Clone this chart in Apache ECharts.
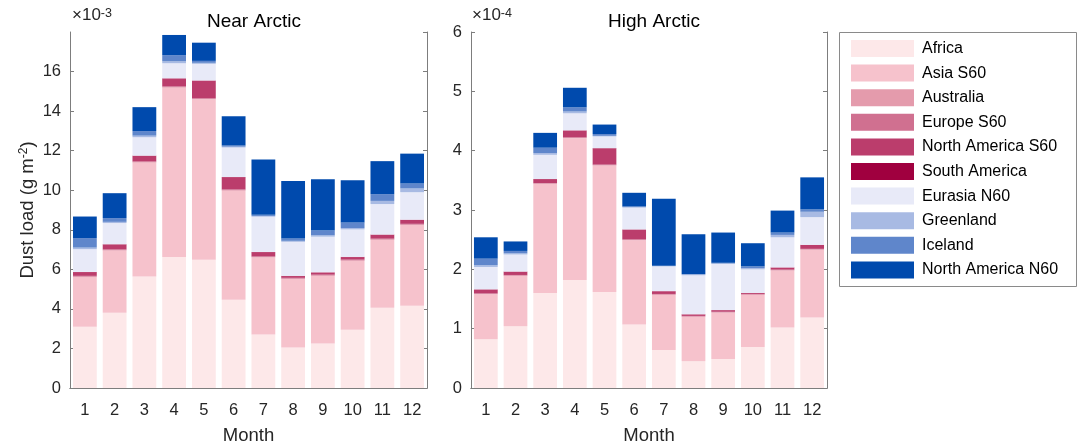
<!DOCTYPE html>
<html>
<head>
<meta charset="utf-8">
<script src="https://cdn.jsdelivr.net/npm/echarts@6/dist/echarts.min.js"></script>
<style>html,body{margin:0;padding:0;background:#fff;}#c{width:1079px;height:444px;}</style>
</head>
<body>
<div id="c"></div>
<script>
// Categories
var months = ['1','2','3','4','5','6','7','8','9','10','11','12'];
var sourceNames = ['Africa','Asia S60','Australia','Europe S60','North America S60','South America','Eurasia N60','Greenland','Iceland','North America N60'];
var sourceColors = ['#fde8e9','#f6c2cc','#e49bac','#d07090','#bb3d6c','#a0003f','#e8eaf8','#a8bae3','#5f86cb','#004aad'];

// Near Arctic dust load (x10^-3 g m^-2)
var nearAfrica   = [3.10,3.80,5.64,6.62,6.48,4.46,2.71,2.05,2.25,2.95,4.06,4.16];
var nearAsia     = [2.51,3.15,5.76,8.57,8.12,5.52,3.89,3.46,3.42,3.48,3.43,4.08];
var nearAustralia= [0.02,0.02,0.02,0.02,0.02,0.02,0.02,0.02,0.02,0.02,0.02,0.02];
var nearEurope   = [0.04,0.04,0.04,0.04,0.04,0.04,0.04,0.04,0.04,0.04,0.04,0.04];
var nearNAS60    = [0.19,0.25,0.28,0.40,0.88,0.62,0.21,0.09,0.11,0.13,0.20,0.20];
var nearSAm      = [0.01,0.01,0.01,0.01,0.01,0.01,0.01,0.01,0.01,0.01,0.01,0.01];
var nearEurasia  = [1.15,1.07,0.93,0.76,0.84,1.49,1.78,1.72,1.80,1.39,1.54,1.39];
var nearGreenland= [0.08,0.06,0.08,0.10,0.05,0.04,0.04,0.05,0.07,0.07,0.16,0.19];
var nearIceland  = [0.48,0.19,0.23,0.31,0.10,0.06,0.06,0.12,0.24,0.28,0.34,0.25];
var nearNAN60    = [1.09,1.26,1.21,1.02,0.92,1.48,2.79,2.90,2.60,2.14,1.67,1.51];

// High Arctic dust load (x10^-4 g m^-2)
var highAfrica   = [0.82,1.04,1.60,1.82,1.62,1.07,0.64,0.45,0.49,0.69,1.02,1.19];
var highAsia     = [0.76,0.85,1.84,2.39,2.13,1.42,0.93,0.75,0.78,0.88,0.96,1.14];
var highAustralia= [0.005,0.005,0.005,0.005,0.005,0.005,0.005,0.005,0.005,0.005,0.005,0.005];
var highEurope   = [0.01,0.01,0.01,0.01,0.01,0.01,0.01,0.01,0.01,0.01,0.01,0.01];
var highNAS60    = [0.065,0.055,0.065,0.115,0.275,0.165,0.045,0.025,0.025,0.015,0.035,0.065];
var highSAm      = [0.003,0.003,0.003,0.003,0.003,0.003,0.003,0.003,0.003,0.003,0.003,0.003];
var highEurasia  = [0.377,0.287,0.407,0.287,0.197,0.367,0.417,0.657,0.777,0.397,0.507,0.467];
var highGreenland= [0.03,0.02,0.03,0.03,0.01,0.01,0.005,0.01,0.01,0.02,0.04,0.09];
var highIceland  = [0.11,0.04,0.09,0.07,0.03,0.01,0.005,0.01,0.01,0.03,0.04,0.04];
var highNAN60    = [0.36,0.16,0.25,0.33,0.16,0.23,1.13,0.67,0.51,0.39,0.37,0.54];

var nearSets = [nearAfrica,nearAsia,nearAustralia,nearEurope,nearNAS60,nearSAm,nearEurasia,nearGreenland,nearIceland,nearNAN60];
var highSets = [highAfrica,highAsia,highAustralia,highEurope,highNAS60,highSAm,highEurasia,highGreenland,highIceland,highNAN60];

var FONT = 'Liberation Sans, Arial, Helvetica, sans-serif';
var TXT = '#262626';
var AX = '#7d7d7d';

function xAxes(gi){
  return [
    {type:'category', gridIndex:gi, data:months, position:'bottom',
     axisLine:{lineStyle:{color:AX}}, axisTick:{inside:true,length:4,alignWithLabel:true,lineStyle:{color:AX}},
     axisLabel:{color:TXT,fontSize:16.5,fontFamily:FONT,margin:14},
     name:'Month', nameLocation:'middle', nameGap:38.5,
     nameTextStyle:{color:TXT,fontSize:18.5,fontFamily:FONT}},
    {type:'category', gridIndex:gi, data:months, position:'top',
     axisLine:{lineStyle:{color:AX}}, axisTick:{inside:true,length:4,alignWithLabel:true,lineStyle:{color:AX}},
     axisLabel:{show:false}}
  ];
}
function yAxes(gi,max,interval,showMax,withName){
  var a = {type:'value', gridIndex:gi, min:0, max:max, interval:interval, position:'left',
     axisLine:{show:true,lineStyle:{color:AX}}, axisTick:{show:true,inside:true,length:4,lineStyle:{color:AX}},
     splitLine:{show:false},
     axisLabel:{color:TXT,fontSize:16.5,fontFamily:FONT,margin:9,showMaxLabel:showMax}};
  if(withName){
    a.name='Dust load (g m{s|-2})';
    a.nameLocation='middle'; a.nameGap=33; a.nameRotate=90;
    a.nameTextStyle={color:TXT,fontSize:18.5,fontFamily:FONT,
      rich:{s:{fontSize:12,fontFamily:FONT,color:TXT,verticalAlign:'top',lineHeight:12}}};
  }
  var b = {type:'value', gridIndex:gi, min:0, max:max, interval:interval, position:'right',
     axisLine:{show:true,lineStyle:{color:AX}}, axisTick:{show:true,inside:true,length:4,lineStyle:{color:AX}},
     splitLine:{show:false}, axisLabel:{show:false}};
  return [a,b];
}

var series = [];
for (var i=0;i<sourceNames.length;i++){
  series.push({name:sourceNames[i], type:'bar', stack:'near', xAxisIndex:0, yAxisIndex:0,
    data:nearSets[i], barWidth:'80%', itemStyle:{color:sourceColors[i]}, emphasis:{disabled:true}});
}
for (var j=0;j<sourceNames.length;j++){
  series.push({name:sourceNames[j], type:'bar', stack:'high', xAxisIndex:2, yAxisIndex:2,
    data:highSets[j], barWidth:'80%', itemStyle:{color:sourceColors[j]}, emphasis:{disabled:true}});
}

var chart = echarts.init(document.getElementById('c'), null, {renderer:'canvas'});
chart.setOption({
  animation:false,
  backgroundColor:'#fff',
  title:[
    {text:'Near Arctic', left:249, top:7, textAlign:'center', textStyle:{color:'#000',fontSize:19,fontWeight:'normal',fontFamily:FONT}},
    {text:'High Arctic', left:649, top:7, textAlign:'center', textStyle:{color:'#000',fontSize:19,fontWeight:'normal',fontFamily:FONT}}
  ],
  grid:[
    {left:70, top:32, width:357, height:356, outerBoundsMode:'none', containLabel:false},
    {left:471, top:32, width:356, height:356, outerBoundsMode:'none', containLabel:false}
  ],
  xAxis: xAxes(0).concat(xAxes(1)),
  yAxis: yAxes(0,18,2,false,true).concat(yAxes(1,6,1,true,false)),
  legend:{
    orient:'vertical', left:845, top:36, padding:[4,6,4,6],
    data:sourceNames, icon:'rect', itemWidth:63, itemHeight:17, itemGap:7.6,
    textStyle:{color:'#000',fontSize:16,fontFamily:FONT,padding:[0,0,0,3]},
    selectedMode:false
  },
  graphic:[
    {type:'rect', shape:{x:839.5,y:32.5,width:237,height:254}, style:{fill:'none',stroke:'#8a8a8a',lineWidth:1}, silent:true},
    {type:'text', left:72, top:7, style:{text:'\u00d710{s|-3}', fill:TXT, font:'17px '+FONT,
      rich:{s:{fontSize:12.5,fontFamily:FONT,fill:TXT,verticalAlign:'top',lineHeight:11}}}},
    {type:'text', left:472, top:7, style:{text:'\u00d710{s|-4}', fill:TXT, font:'17px '+FONT,
      rich:{s:{fontSize:12.5,fontFamily:FONT,fill:TXT,verticalAlign:'top',lineHeight:11}}}}
  ],
  series:series
});
</script>
</body>
</html>
